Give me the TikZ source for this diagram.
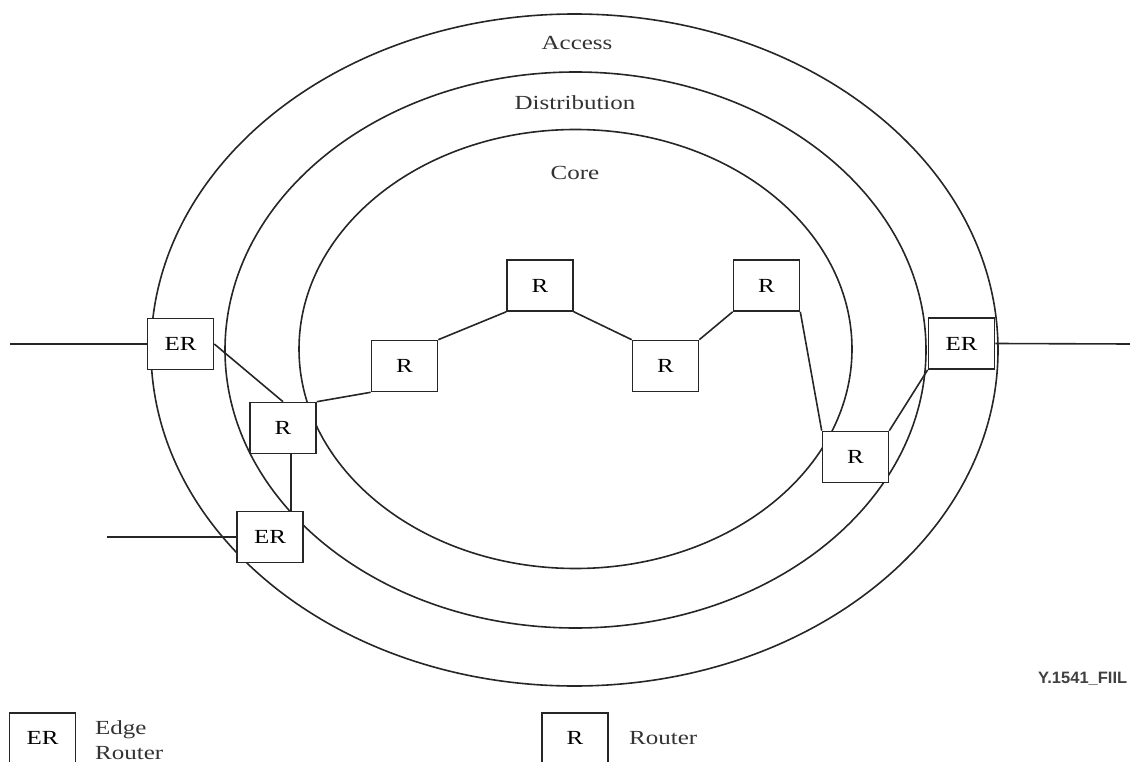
\documentclass[tikz,border=0pt]{standalone}
\usepackage{fontspec}
\setmainfont{Liberation Serif}[FakeStretch=1.25]
\newfontfamily\tagfont{Liberation Sans}
\begin{document}
\begin{tikzpicture}[x=1pt,y=-1pt,
  ring/.style={draw=black!85,line width=1.6pt},
  link/.style={draw=black!85,line width=1.6pt},
  box/.style={draw=black!85,line width=1.6pt,fill=white,minimum width=66pt,minimum height=51pt,inner sep=0pt,font=\fontsize{20}{24}\selectfont},
  lbl/.style={font=\fontsize{20}{24}\selectfont,text=black!80,inner sep=0pt}]
\useasboundingbox (0,0) rectangle (1130,762);

% network layers
\draw[ring] (574.5,350) ellipse [x radius=423.5, y radius=336];
\draw[ring] (575.5,350) ellipse [x radius=350.5, y radius=278];
\draw[ring] (575.5,349) ellipse [x radius=276.5, y radius=219.5];
\node[lbl] (access) at (577,43) {Access};
\node[lbl] (distr) at (575,103) {Distribution};
\node[lbl] (core) at (575,173) {Core};

% external attachment points
\coordinate (inL) at (10,344);
\coordinate (inB) at (107,537);
\coordinate (outR) at (1130,344);

% routers
\node[box] (er1) at (180.5,344) {ER};
\node[box] (rl)  at (283,428)   {R};
\node[box] (erb) at (270,537)   {ER};
\node[box] (r2)  at (404.5,366) {R};
\node[box] (r3)  at (540,285.5) {R};
\node[box] (r4)  at (665.5,366) {R};
\node[box] (r5)  at (766.5,285.5) {R};
\node[box] (r6)  at (855.5,457) {R};
\node[box] (er2) at (961.5,343.5) {ER};

% links
\draw[link] (inL) -- (er1.west);
\draw[link] (inB) -- (erb.west);
\draw[link] (er2.east) -- (outR);
\draw[link] (er1.east) -- (rl.north);
\draw[link] ([xshift=8pt]rl.south) -- ([xshift=8pt]rl.south |- erb.north);
\draw[link] (rl.north east) -- (r2.south west);
\draw[link] (r2.north east) -- (r3.south west);
\draw[link] (r3.south east) -- (r4.north west);
\draw[link] (r4.north east) -- (r5.south west);
\draw[link] (r5.south east) -- (r6.north west);
\draw[link] (r6.north east) -- (er2.south west);

% figure tag
\node[anchor=west,inner sep=0pt,font=\tagfont\bfseries\fontsize{16.5}{18}\selectfont,text=black!75] (tag) at (1038,679) {Y.1541\_FIIL};

% legend
\node[box,anchor=north] (keyer) at (42.5,712) {ER};
\node[lbl,anchor=west,align=left,font=\fontsize{20}{25}\selectfont] (keyert) at (95,740) {Edge\\Router};
\node[box,anchor=north] (keyr) at (575,712) {R};
\node[lbl,anchor=west] (keyrt) at (629,738) {Router};
\end{tikzpicture}
\end{document}
